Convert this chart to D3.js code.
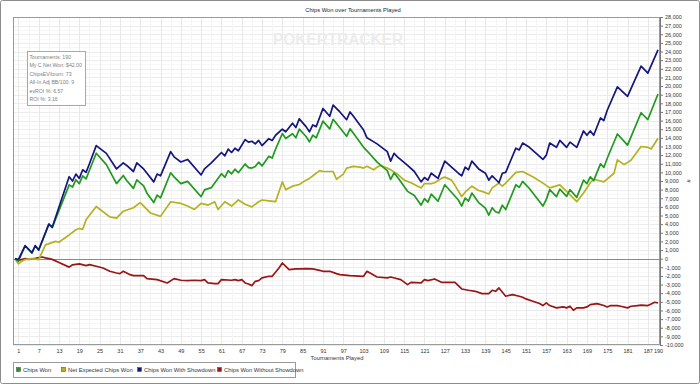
<!DOCTYPE html>
<html>
<head>
<meta charset="utf-8">
<script src="https://cdn.jsdelivr.net/npm/d3@7"></script>
<style>
  html, body { margin: 0; padding: 0; background: #fff; }
  svg { display: block; font-family: "Liberation Sans", Arial, sans-serif; }
</style>
</head>
<body>
<svg id="chart" width="700" height="384"></svg>
<script>
// ---------- data ----------
const xTickLabels = [1,7,13,19,25,31,37,43,49,55,61,67,73,79,85,91,97,103,109,115,121,127,133,139,145,151,157,163,169,175,181,187,190];
const yTickValues = d3.range(-10000, 28001, 1000);

const seriesNames = ["Chips Won", "Net Expected Chips Won", "Chips Won With Showdown", "Chips Won Without Showdown"];
const seriesColors = ["#1f9a1f", "#b4b21e", "#15157e", "#9a1515"];

// Chips Won With Showdown (tournament, value)
const sdT = [0,1,3,5,6,7,10,11,16,17,18,19,20,21,22,24,27,30,32,33,35,36,38,39,41,42,43,46,47,49,51,55,56,58,61,62,63,64,65,66,68,69,70,71,72,73,75,76,77,79,80,82,83,84,86,87,88,89,91,93,94,96,98,99,100,103,104,107,110,111,112,113,116,118,120,121,122,123,125,127,131,132,133,134,135,137,139,140,141,142,143,144,145,148,149,150,152,156,157,158,160,161,163,164,166,168,169,170,171,173,174,175,178,181,185,187,190];
const sdV = [0,-100,1500,700,1500,1000,4000,3650,9500,9000,9800,9300,10300,10000,11000,13100,12200,10400,11100,10800,10100,11100,10400,9900,8900,9800,9600,12400,11800,11200,11500,9700,10400,11100,12300,11900,12700,12300,12800,12500,13800,13500,13600,13300,13700,13100,13900,13700,14300,15000,14700,15700,15200,16200,15300,14700,15500,15300,17400,16500,17800,17000,16100,17000,16500,14900,14000,13300,12400,11300,12200,11800,10800,10100,8900,9400,9100,9900,9300,11300,9900,9600,10600,10300,11300,10400,9900,9100,9600,9200,8800,9900,10000,12800,12600,13400,12900,11500,12000,13400,12900,13700,12900,13500,12900,14800,14300,14800,14300,16300,16000,17200,19900,18800,22300,21500,24200];

// Chips Won (tournament, value)
const cwT = [0,1,3,5,6,7,10,11,16,17,18,19,20,21,22,24,27,30,32,33,35,36,38,39,41,42,43,46,47,49,51,55,56,58,61,62,63,64,65,66,68,69,70,71,72,73,75,76,77,79,80,82,83,84,86,87,88,89,91,93,94,96,98,99,100,103,104,107,110,111,112,113,116,118,120,121,122,123,125,127,131,132,133,134,135,137,139,140,141,142,143,144,145,148,149,150,152,156,157,158,160,161,163,164,166,168,169,170,171,173,174,175,178,181,185,187,190];
const cwV = [0,-300,1500,650,1500,1000,4000,3600,8550,8300,9150,8700,9600,9250,10250,12220,10900,8700,9640,9050,8140,9140,8440,7590,6500,7370,7050,9950,9480,8700,8960,7180,7970,8230,9850,9430,10200,9830,10370,9960,10970,10550,10500,10680,11180,10750,11860,11660,12700,14500,13920,14470,14010,15010,14150,13530,14310,14000,15940,15040,16150,15160,14180,15040,14520,12900,12500,11180,10200,9180,9950,9450,7800,7330,6200,6950,6560,7480,6650,8560,6800,6090,7010,6660,7600,6500,5850,5050,5900,5440,5300,6200,5700,8570,8270,8950,8130,6100,6870,8000,7200,8050,7220,7990,7100,9100,8700,9480,9040,10980,10570,11640,14450,13150,16910,16120,19080];

// Net Expected Chips Won (tournament, value)
const evT = [0,1,2,3,5,7,9,12,13,14,16,18,19,20,21,24,28,30,32,35,37,40,43,46,49,51,53,55,57,59,60,62,64,66,68,70,72,73,75,77,79,80,82,84,86,87,89,90,91,94,95,97,98,100,102,103,104,106,107,108,110,111,113,115,117,118,120,121,123,124,126,127,129,130,132,133,135,137,138,140,141,143,144,145,148,150,153,156,158,161,163,166,168,170,171,174,177,178,180,182,185,187,188,190];
const evV = [0,-600,-300,-100,0,-100,1600,2000,1900,2200,2750,3350,3500,3400,4500,6050,4850,4700,5500,5900,6500,5300,4900,6600,6400,6100,5700,6400,6200,6600,5700,6600,6100,6800,6300,6000,6600,6800,6700,6600,8900,8000,8400,8600,9100,9300,9900,10200,10100,10100,9200,9800,10500,10700,10600,10500,10700,10300,10600,10800,10500,10300,9800,9100,8800,8600,8200,8700,8700,8800,9300,9450,9100,8500,7200,7700,8400,7900,7800,7500,8200,8750,8400,8750,10000,10100,9500,8750,8200,8550,7800,6600,7600,8800,9200,8900,9900,11450,10900,11400,13000,12900,12700,13950];

// Chips Won Without Showdown (tournament, value)
const nsT = [0,1,3,4,6,8,9,11,13,16,17,19,21,22,24,26,28,30,31,32,34,35,38,39,42,45,47,49,51,53,55,56,57,59,60,61,64,65,66,67,68,69,70,71,72,73,75,76,78,79,80,81,83,84,86,88,90,91,93,95,96,99,103,104,107,110,111,114,116,117,120,121,122,124,126,130,132,134,136,138,140,141,142,143,145,147,149,150,151,153,155,156,157,158,160,162,163,164,165,166,168,169,170,172,174,175,176,178,179,181,182,184,185,187,188,189,190];
const nsV = [0,-200,0,-80,40,200,100,-80,-450,-980,-710,-600,-800,-690,-880,-1080,-1460,-1660,-1730,-1460,-1850,-1960,-1960,-2310,-2430,-2810,-2310,-2500,-2540,-2500,-2540,-2430,-2810,-2890,-2890,-2430,-2500,-2430,-2540,-2430,-2810,-2930,-3120,-2620,-2540,-2230,-2040,-2040,-1080,-500,-880,-1270,-1190,-1190,-1150,-1190,-1350,-1460,-1460,-1730,-1850,-1960,-2040,-1460,-2120,-2230,-2120,-2430,-3010,-2740,-2810,-2430,-2540,-2350,-2740,-2740,-3510,-3660,-3780,-4050,-4050,-3660,-3780,-3390,-4350,-4160,-4350,-4470,-4660,-4930,-5200,-5430,-5120,-5430,-5700,-5590,-5700,-5510,-5970,-5700,-5700,-5590,-5320,-5200,-5430,-5590,-5430,-5430,-5510,-5700,-5510,-5430,-5390,-5430,-5240,-5050,-5120];

const infoLines = ["Tournaments: 190", "My C Net Won: $42.00", "ChipsEV/tourn: 73", "All-In Adj BB/100: 9", "evROI %: 6.57", "ROI %: 3.16"];

// ---------- drawing ----------
const svg = d3.select("#chart");
const W = 700, H = 384;
const plot = {left: 13, right: 660, top: 17, bottom: 345};

const x = d3.scaleLinear().domain([0, 190]).range([15, 658]);
const y = d3.scaleLinear().domain([-10000, 28000]).range([plot.bottom, plot.top]);

// outer frame
svg.append("rect").attr("x", 0.5).attr("y", 0.5).attr("width", W - 1).attr("height", H - 1)
  .attr("rx", 2).attr("fill", "#fff").attr("stroke", "#8c8c8c");

// title
svg.append("text").attr("x", 353).attr("y", 11.5).attr("text-anchor", "middle")
  .attr("font-size", 5.8).attr("fill", "#222").text("Chips Won over Tournaments Played");

// plot background
svg.append("rect").attr("x", plot.left).attr("y", plot.top)
  .attr("width", plot.right - plot.left).attr("height", plot.bottom - plot.top).attr("fill", "#fff");

// grid
const gGrid = svg.append("g");
gGrid.selectAll("line.hmin").data(d3.range(-9500, 28000, 1000)).join("line")
  .attr("x1", plot.left).attr("x2", plot.right)
  .attr("y1", d => Math.round(y(d)) + 0.5).attr("y2", d => Math.round(y(d)) + 0.5)
  .attr("stroke", "#f6f6f6");
gGrid.selectAll("line.h").data(yTickValues).join("line")
  .attr("x1", plot.left).attr("x2", plot.right)
  .attr("y1", d => Math.round(y(d)) + 0.5).attr("y2", d => Math.round(y(d)) + 0.5)
  .attr("stroke", "#ebebeb");
const vMinor = d3.range(4, 190, 6);
gGrid.selectAll("line.vmin").data(vMinor).join("line")
  .attr("y1", plot.top).attr("y2", plot.bottom)
  .attr("x1", d => Math.round(x(d)) + 0.5).attr("x2", d => Math.round(x(d)) + 0.5)
  .attr("stroke", "#f4f4f4");
gGrid.selectAll("line.v").data(xTickLabels.slice(0, -1)).join("line")
  .attr("y1", plot.top).attr("y2", plot.bottom)
  .attr("x1", d => Math.round(x(d)) + 0.5).attr("x2", d => Math.round(x(d)) + 0.5)
  .attr("stroke", "#e8e8e8");

// watermark
svg.append("text").attr("x", 273).attr("y", 45).attr("font-size", 17).attr("font-weight", "bold")
  .attr("textLength", 130).attr("lengthAdjust", "spacingAndGlyphs")
  .attr("fill", "#ececec").text("POKERTRACKER");

// zero line
svg.append("line").attr("x1", plot.left).attr("x2", plot.right)
  .attr("y1", Math.round(y(0)) + 0.5).attr("y2", Math.round(y(0)) + 0.5)
  .attr("stroke", "#8a8a8a").attr("stroke-width", 1);

// plot frame
svg.append("rect").attr("x", plot.left + 0.5).attr("y", plot.top + 0.5)
  .attr("width", plot.right - plot.left - 1).attr("height", plot.bottom - plot.top - 1)
  .attr("fill", "none").attr("stroke", "#9a9a9a");

// series
const line = d3.line().x(d => x(d[0])).y(d => y(d[1]));
const series = [
  {T: nsT, V: nsV, c: seriesColors[3]},
  {T: evT, V: evV, c: seriesColors[1]},
  {T: cwT, V: cwV, c: seriesColors[0]},
  {T: sdT, V: sdV, c: seriesColors[2]}
];
series.forEach(s => {
  const pts = s.T.map((t, i) => [t, s.V[i]]);
  svg.append("path").datum(pts).attr("d", line).attr("fill", "none")
    .attr("stroke", s.c).attr("stroke-width", 1.7).attr("stroke-linejoin", "round");
});

// right axis
const fmt = d => d3.format(",")(d).replace("\u2212", "-");
const yAxis = svg.append("g").attr("transform", `translate(${plot.right},0)`)
  .call(d3.axisRight(y).tickValues(yTickValues).tickFormat(fmt).tickSize(3).tickPadding(2));
yAxis.select(".domain").attr("stroke", "#777");
yAxis.selectAll(".tick line").attr("stroke", "#777");
yAxis.selectAll("text").attr("font-size", 5.5).attr("fill", "#333").attr("font-family", "Liberation Sans, Arial, sans-serif");

svg.append("text").attr("transform", "translate(687,181) rotate(90)").attr("text-anchor", "middle")
  .attr("font-size", 5.5).attr("fill", "#333").text("#");

// bottom axis
const xAxis = svg.append("g").attr("transform", `translate(0,${plot.bottom})`)
  .call(d3.axisBottom(x).tickValues(xTickLabels).tickFormat(d => d).tickSize(0).tickPadding(4));
xAxis.select(".domain").remove();
xAxis.selectAll("text").attr("font-size", 5.5).attr("fill", "#333").attr("font-family", "Liberation Sans, Arial, sans-serif");

svg.append("text").attr("x", 337).attr("y", 360).attr("text-anchor", "middle")
  .attr("font-size", 5.8).attr("fill", "#333").text("Tournaments Played");

// info box
svg.append("rect").attr("x", 27.5).attr("y", 51.5).attr("width", 58).attr("height", 54)
  .attr("fill", "#fff").attr("stroke", "#a8a8a8");
svg.append("g").selectAll("text").data(infoLines).join("text")
  .attr("x", 29.5).attr("y", (d, i) => 59 + i * 8.4)
  .attr("font-size", 5.2).attr("fill", "#808080").text(d => d);

// legend
svg.append("rect").attr("x", 13.5).attr("y", 362.5).attr("width", 282).attr("height", 15)
  .attr("fill", "#fff").attr("stroke", "#9a9a9a");
const legX = [16, 61, 137, 217];
const lg = svg.append("g").selectAll("g").data(seriesNames).join("g")
  .attr("transform", (d, i) => `translate(${legX[i]},367)`);
lg.append("rect").attr("x", 0.5).attr("y", 0.5).attr("width", 4).attr("height", 4)
  .attr("fill", (d, i) => seriesColors[i]).attr("stroke", "#555").attr("stroke-width", 0.6);
lg.append("text").attr("x", 7).attr("y", 4.6).attr("font-size", 5.8).attr("fill", "#333").text(d => d);
</script>
</body>
</html>
